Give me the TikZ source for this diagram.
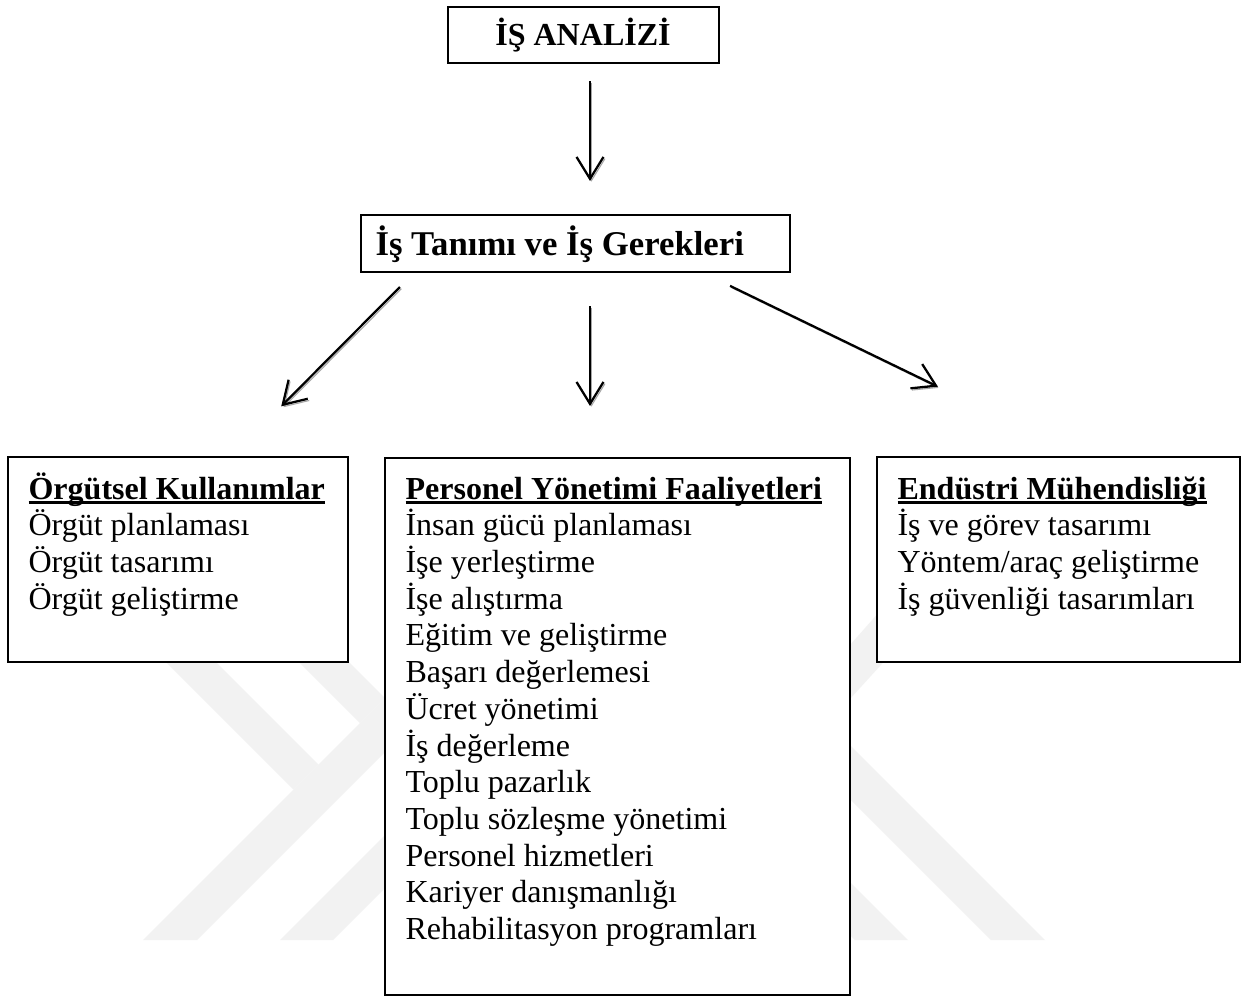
\documentclass[tikz,border=0pt]{standalone}
\usepackage{fontspec}
\setmainfont{Liberation Serif}
\usetikzlibrary{arrows.meta,shadows,fit}
\newcommand\myul[1]{\setbox0\hbox{#1}\rlap{\rule[-1.9pt]{\wd0}{1.1pt}}\box0}
\newcommand\boxlines[1]{\parbox[t]{7cm}{\fontsize{12}{13.75}\selectfont\raggedright #1}}
\newcommand\boxtitle[2][12]{{\fontsize{#1}{14}\selectfont\bfseries #2}}
\begin{document}
\begin{tikzpicture}[x=0.3745pt, y=-0.3745pt,
  wm/.style={fill=black!5, draw=none},
  box/.style={draw, line width=0.75pt, fill=white, inner sep=0pt,
    drop shadow={shadow xshift=0.55pt, shadow yshift=-0.55pt, fill=black!45, opacity=1}},
  txt/.style={inner sep=0pt, anchor=base west},
  arr/.style={line width=0.85pt, -{Straight Barb[length=8.2pt, width=10.1pt]},
    preaction={draw=black!35, transform canvas={shift={(0.55pt,-0.65pt)}}}}]
\useasboundingbox (0,0) rectangle (1244,997);
\fill[white] (0,0) rectangle (1244,997);
% watermark, left half
\fill[wm] (143,940) -- (197,940) -- (497,640) -- (443,640) -- cycle;
\fill[wm] (124,620) -- (174,620) -- (318.5,764.5) -- (293.5,789.5) -- cycle;
\fill[wm] (257,620) -- (307,620) -- (385,698) -- (360,723) -- cycle;
\fill[wm] (280,940) -- (333,940) -- (633,640) -- (580,640) -- cycle;
% watermark, right half
\begin{scope}[shift={(1188,0)}, xscale=-1]
\fill[wm] (143,940) -- (197,940) -- (497,640) -- (443,640) -- cycle;
\fill[wm] (257,610) -- (307,610) -- (385,698) -- (360,723) -- cycle;
\fill[wm] (280,940) -- (333,940) -- (633,640) -- (580,640) -- cycle;
\end{scope}
% boxes
\node[box, fit={(448,7) (719,63)}] (b1) {};
\node[box, fit={(361,215) (790,272)}] (b2) {};
\node[box, fit={(8,457) (348,662)}] (org) {};
\node[box, fit={(385,458) (850,995)}] (per) {};
\node[box, fit={(877,457) (1240,662)}] (end) {};
% texts
\node[txt, anchor=base] (t1) at (583,45.5) {\boxtitle{İŞ ANALİZİ}};
\node[txt] (t2) at (375,255) {\boxtitle[13]{İş Tanımı ve İş Gerekleri}};
\node[txt] (t3) at (28,499) {\boxlines{\textbf{\myul{Örgütsel Kullanımlar}}\\Örgüt planlaması\\Örgüt tasarımı\\Örgüt geliştirme}};
\node[txt] (t4) at (405,499) {\boxlines{\textbf{\myul{Personel Yönetimi Faaliyetleri}}\\İnsan gücü planlaması\\İşe yerleştirme\\İşe alıştırma\\Eğitim ve geliştirme\\Başarı değerlemesi\\Ücret yönetimi\\İş değerleme\\Toplu pazarlık\\Toplu sözleşme yönetimi\\Personel hizmetleri\\Kariyer danışmanlığı\\Rehabilitasyon programları}};
\node[txt] (t5) at (897,499) {\boxlines{\textbf{\myul{Endüstri Mühendisliği}}\\İş ve görev tasarımı\\Yöntem/araç geliştirme\\İş güvenliği tasarımları}};
% arrows
\coordinate (xa) at (590,0);
\coordinate (la) at (413.8,0);
\coordinate (lb) at (231.8,0);
\coordinate (ra) at (703.5,0);
\coordinate (rb) at (1080.9,0);
\draw[arr, shorten <=6.37pt, shorten >=12.36pt] (b1.south -| xa) -- (b2.north -| xa);
\draw[arr, shorten <=12.36pt, shorten >=19.1pt] (b2.south -| xa) -- (per.north -| xa);
\draw[arr, shorten <=7.38pt, shorten >=26.25pt] (b2.south -| la) -- (org.north -| lb);
\draw[arr, shorten <=11.05pt, shorten >=59.5pt] (b2.south -| ra) -- (end.north -| rb);
\end{tikzpicture}
\end{document}
